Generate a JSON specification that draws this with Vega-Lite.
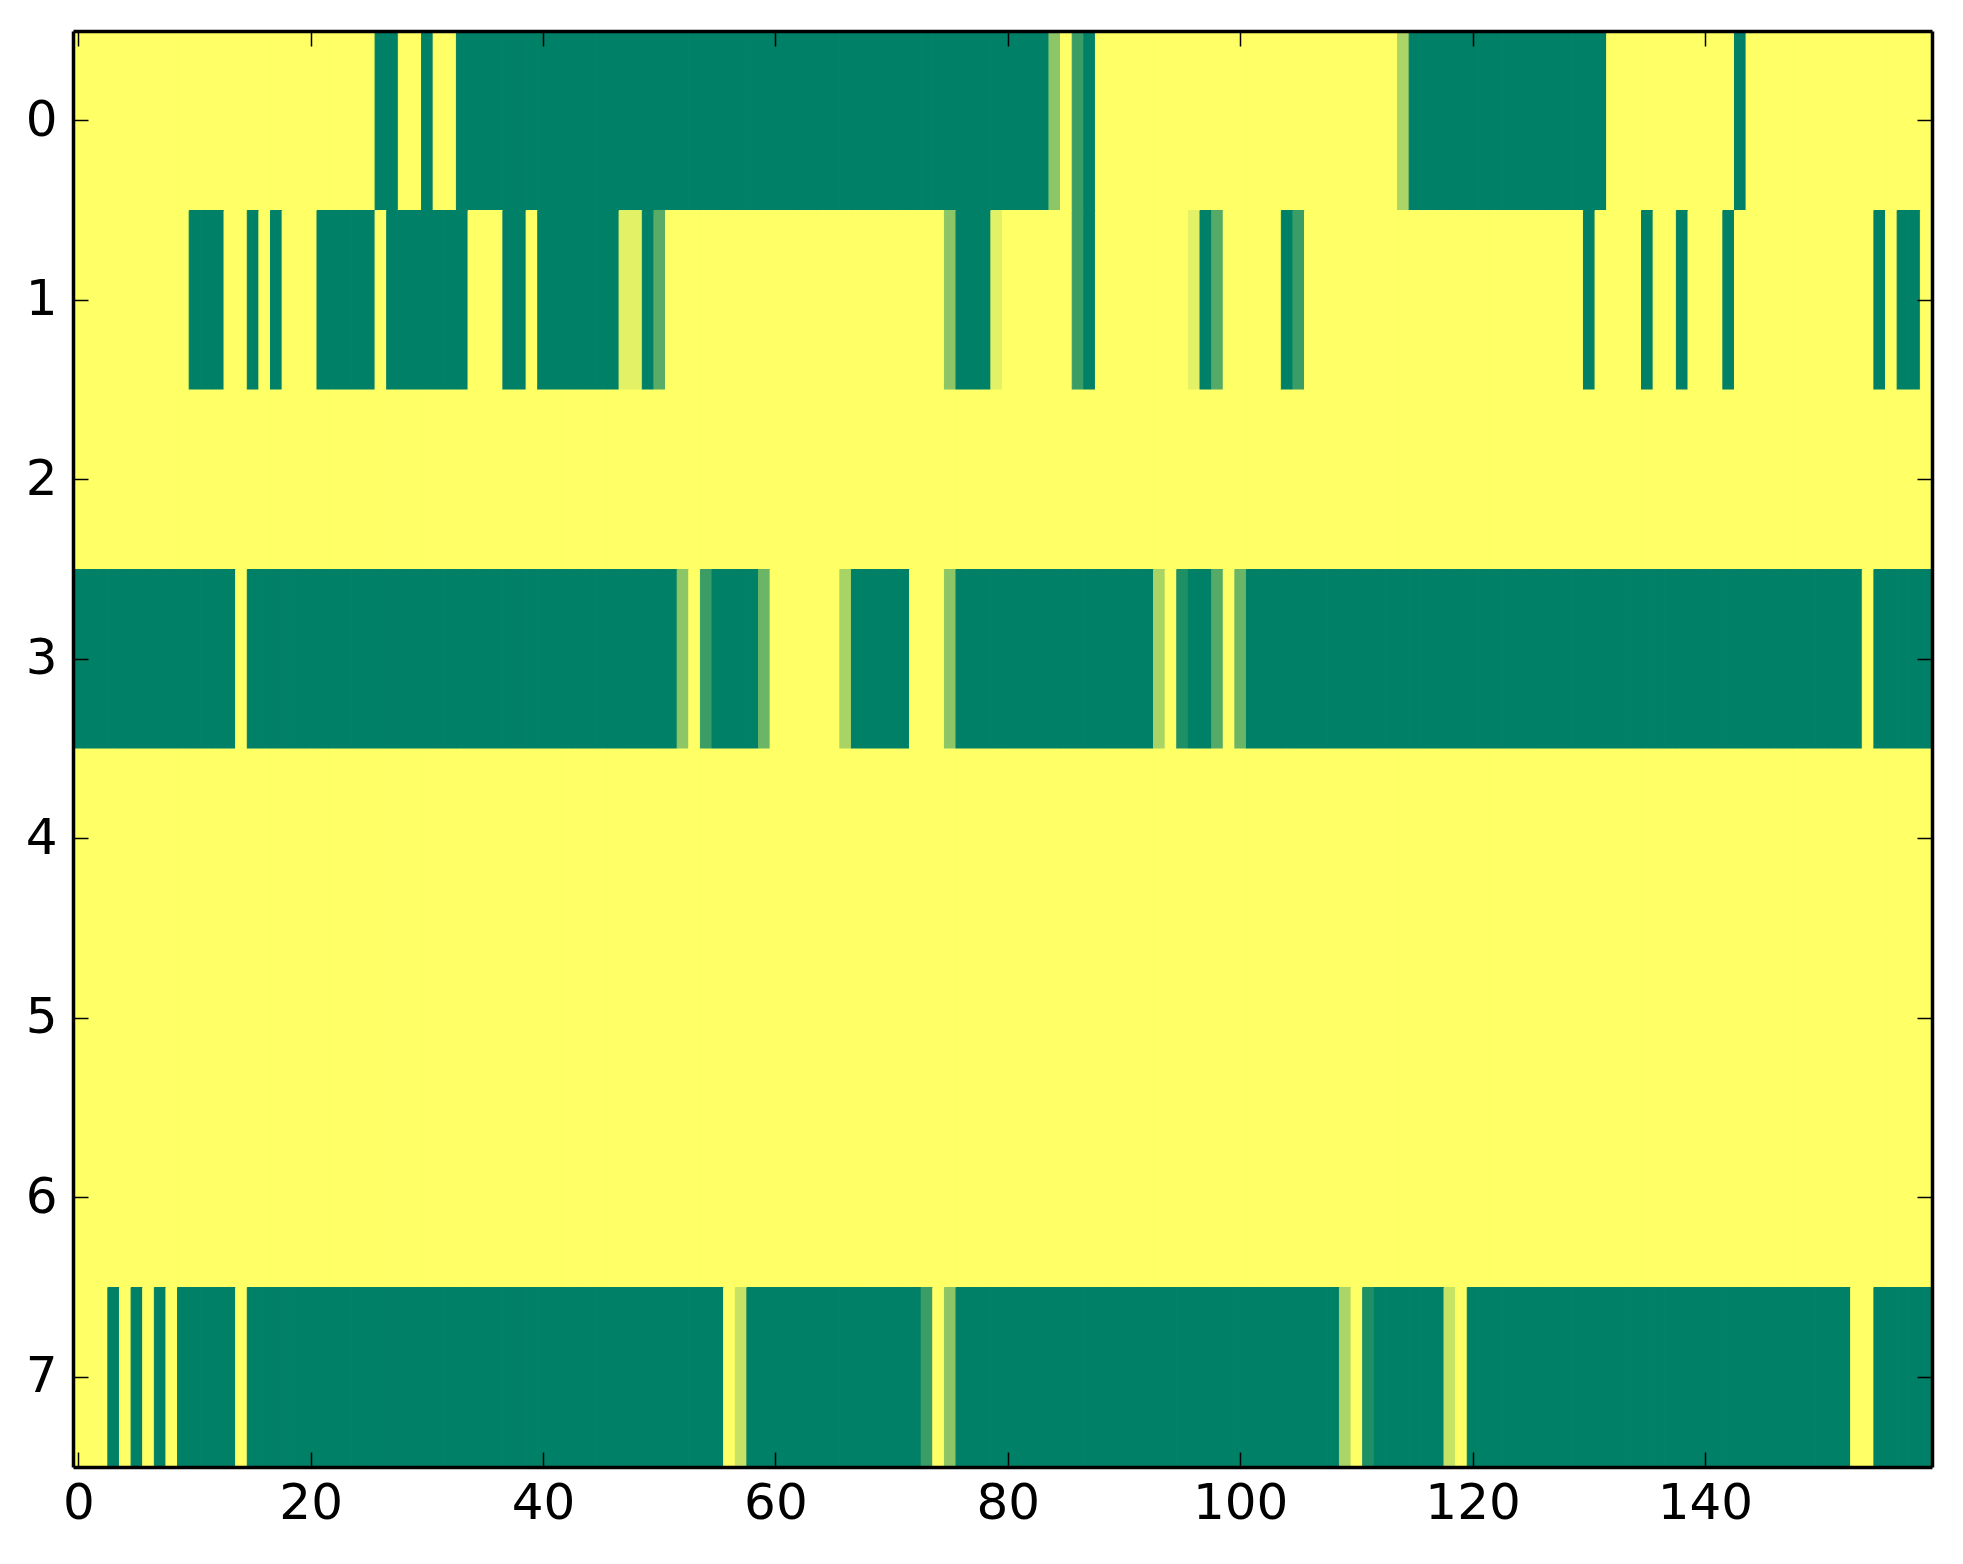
{
  "$schema": "https://vega.github.io/schema/vega-lite/v6.json",
  "autosize": {"type": "none"},
  "padding": {"left": 73, "top": 31, "right": 31, "bottom": 97},
  "width": 1859,
  "height": 1436,
  "background": "white",
  "config": {
    "view": {"stroke": null},
    "axis": {
      "labelFont": "DejaVu Sans",
      "labelFontSize": 50,
      "labelColor": "black",
      "tickColor": "black",
      "tickWidth": 1.5,
      "tickSize": -15,
      "domainColor": "black",
      "domainWidth": 3.5,
      "grid": false,
      "title": null
    }
  },
  "data": {
    "format": {"type": "csv", "parse": {"row": "number", "col": "number", "val": "number"}},
    "values": "row,col,val\n0,0,1\n0,1,1\n0,2,1\n0,3,1\n0,4,1\n0,5,1\n0,6,1\n0,7,1\n0,8,1\n0,9,1\n0,10,1\n0,11,1\n0,12,1\n0,13,1\n0,14,1\n0,15,1\n0,16,1\n0,17,1\n0,18,1\n0,19,1\n0,20,1\n0,21,1\n0,22,1\n0,23,1\n0,24,1\n0,25,1\n0,26,0\n0,27,0\n0,28,1\n0,29,1\n0,30,0\n0,31,1\n0,32,1\n0,33,0\n0,34,0\n0,35,0\n0,36,0\n0,37,0\n0,38,0\n0,39,0\n0,40,0\n0,41,0\n0,42,0\n0,43,0\n0,44,0\n0,45,0\n0,46,0\n0,47,0\n0,48,0\n0,49,0\n0,50,0\n0,51,0\n0,52,0\n0,53,0\n0,54,0\n0,55,0\n0,56,0\n0,57,0\n0,58,0\n0,59,0\n0,60,0\n0,61,0\n0,62,0\n0,63,0\n0,64,0\n0,65,0\n0,66,0\n0,67,0\n0,68,0\n0,69,0\n0,70,0\n0,71,0\n0,72,0\n0,73,0\n0,74,0\n0,75,0\n0,76,0\n0,77,0\n0,78,0\n0,79,0\n0,80,0\n0,81,0\n0,82,0\n0,83,0\n0,84,0.55\n0,85,1\n0,86,0.23\n0,87,0\n0,88,1\n0,89,1\n0,90,1\n0,91,1\n0,92,1\n0,93,1\n0,94,1\n0,95,1\n0,96,1\n0,97,1\n0,98,1\n0,99,1\n0,100,1\n0,101,1\n0,102,1\n0,103,1\n0,104,1\n0,105,1\n0,106,1\n0,107,1\n0,108,1\n0,109,1\n0,110,1\n0,111,1\n0,112,1\n0,113,1\n0,114,0.67\n0,115,0\n0,116,0\n0,117,0\n0,118,0\n0,119,0\n0,120,0\n0,121,0\n0,122,0\n0,123,0\n0,124,0\n0,125,0\n0,126,0\n0,127,0\n0,128,0\n0,129,0\n0,130,0\n0,131,0\n0,132,1\n0,133,1\n0,134,1\n0,135,1\n0,136,1\n0,137,1\n0,138,1\n0,139,1\n0,140,1\n0,141,1\n0,142,1\n0,143,0\n0,144,1\n0,145,1\n0,146,1\n0,147,1\n0,148,1\n0,149,1\n0,150,1\n0,151,1\n0,152,1\n0,153,1\n0,154,1\n0,155,1\n0,156,1\n0,157,1\n0,158,1\n0,159,1\n1,0,1\n1,1,1\n1,2,1\n1,3,1\n1,4,1\n1,5,1\n1,6,1\n1,7,1\n1,8,1\n1,9,1\n1,10,0\n1,11,0\n1,12,0\n1,13,1\n1,14,1\n1,15,0\n1,16,1\n1,17,0\n1,18,1\n1,19,1\n1,20,1\n1,21,0\n1,22,0\n1,23,0\n1,24,0\n1,25,0\n1,26,1\n1,27,0\n1,28,0\n1,29,0\n1,30,0\n1,31,0\n1,32,0\n1,33,0\n1,34,1\n1,35,1\n1,36,1\n1,37,0\n1,38,0\n1,39,1\n1,40,0\n1,41,0\n1,42,0\n1,43,0\n1,44,0\n1,45,0\n1,46,0\n1,47,0.89\n1,48,0.89\n1,49,0\n1,50,0.35\n1,51,1\n1,52,1\n1,53,1\n1,54,1\n1,55,1\n1,56,1\n1,57,1\n1,58,1\n1,59,1\n1,60,1\n1,61,1\n1,62,1\n1,63,1\n1,64,1\n1,65,1\n1,66,1\n1,67,1\n1,68,1\n1,69,1\n1,70,1\n1,71,1\n1,72,1\n1,73,1\n1,74,1\n1,75,0.55\n1,76,0\n1,77,0\n1,78,0\n1,79,0.89\n1,80,1\n1,81,1\n1,82,1\n1,83,1\n1,84,1\n1,85,1\n1,86,0.23\n1,87,0\n1,88,1\n1,89,1\n1,90,1\n1,91,1\n1,92,1\n1,93,1\n1,94,1\n1,95,1\n1,96,0.89\n1,97,0\n1,98,0.33\n1,99,1\n1,100,1\n1,101,1\n1,102,1\n1,103,1\n1,104,0\n1,105,0.23\n1,106,1\n1,107,1\n1,108,1\n1,109,1\n1,110,1\n1,111,1\n1,112,1\n1,113,1\n1,114,1\n1,115,1\n1,116,1\n1,117,1\n1,118,1\n1,119,1\n1,120,1\n1,121,1\n1,122,1\n1,123,1\n1,124,1\n1,125,1\n1,126,1\n1,127,1\n1,128,1\n1,129,1\n1,130,0\n1,131,1\n1,132,1\n1,133,1\n1,134,1\n1,135,0\n1,136,1\n1,137,1\n1,138,0\n1,139,1\n1,140,1\n1,141,1\n1,142,0\n1,143,1\n1,144,1\n1,145,1\n1,146,1\n1,147,1\n1,148,1\n1,149,1\n1,150,1\n1,151,1\n1,152,1\n1,153,1\n1,154,1\n1,155,0\n1,156,1\n1,157,0\n1,158,0\n1,159,1\n2,0,1\n2,1,1\n2,2,1\n2,3,1\n2,4,1\n2,5,1\n2,6,1\n2,7,1\n2,8,1\n2,9,1\n2,10,1\n2,11,1\n2,12,1\n2,13,1\n2,14,1\n2,15,1\n2,16,1\n2,17,1\n2,18,1\n2,19,1\n2,20,1\n2,21,1\n2,22,1\n2,23,1\n2,24,1\n2,25,1\n2,26,1\n2,27,1\n2,28,1\n2,29,1\n2,30,1\n2,31,1\n2,32,1\n2,33,1\n2,34,1\n2,35,1\n2,36,1\n2,37,1\n2,38,1\n2,39,1\n2,40,1\n2,41,1\n2,42,1\n2,43,1\n2,44,1\n2,45,1\n2,46,1\n2,47,1\n2,48,1\n2,49,1\n2,50,1\n2,51,1\n2,52,1\n2,53,1\n2,54,1\n2,55,1\n2,56,1\n2,57,1\n2,58,1\n2,59,1\n2,60,1\n2,61,1\n2,62,1\n2,63,1\n2,64,1\n2,65,1\n2,66,1\n2,67,1\n2,68,1\n2,69,1\n2,70,1\n2,71,1\n2,72,1\n2,73,1\n2,74,1\n2,75,1\n2,76,1\n2,77,1\n2,78,1\n2,79,1\n2,80,1\n2,81,1\n2,82,1\n2,83,1\n2,84,1\n2,85,1\n2,86,1\n2,87,1\n2,88,1\n2,89,1\n2,90,1\n2,91,1\n2,92,1\n2,93,1\n2,94,1\n2,95,1\n2,96,1\n2,97,1\n2,98,1\n2,99,1\n2,100,1\n2,101,1\n2,102,1\n2,103,1\n2,104,1\n2,105,1\n2,106,1\n2,107,1\n2,108,1\n2,109,1\n2,110,1\n2,111,1\n2,112,1\n2,113,1\n2,114,1\n2,115,1\n2,116,1\n2,117,1\n2,118,1\n2,119,1\n2,120,1\n2,121,1\n2,122,1\n2,123,1\n2,124,1\n2,125,1\n2,126,1\n2,127,1\n2,128,1\n2,129,1\n2,130,1\n2,131,1\n2,132,1\n2,133,1\n2,134,1\n2,135,1\n2,136,1\n2,137,1\n2,138,1\n2,139,1\n2,140,1\n2,141,1\n2,142,1\n2,143,1\n2,144,1\n2,145,1\n2,146,1\n2,147,1\n2,148,1\n2,149,1\n2,150,1\n2,151,1\n2,152,1\n2,153,1\n2,154,1\n2,155,1\n2,156,1\n2,157,1\n2,158,1\n2,159,1\n3,0,0\n3,1,0\n3,2,0\n3,3,0\n3,4,0\n3,5,0\n3,6,0\n3,7,0\n3,8,0\n3,9,0\n3,10,0\n3,11,0\n3,12,0\n3,13,0\n3,14,1\n3,15,0\n3,16,0\n3,17,0\n3,18,0\n3,19,0\n3,20,0\n3,21,0\n3,22,0\n3,23,0\n3,24,0\n3,25,0\n3,26,0\n3,27,0\n3,28,0\n3,29,0\n3,30,0\n3,31,0\n3,32,0\n3,33,0\n3,34,0\n3,35,0\n3,36,0\n3,37,0\n3,38,0\n3,39,0\n3,40,0\n3,41,0\n3,42,0\n3,43,0\n3,44,0\n3,45,0\n3,46,0\n3,47,0\n3,48,0\n3,49,0\n3,50,0\n3,51,0\n3,52,0.55\n3,53,1\n3,54,0.23\n3,55,0\n3,56,0\n3,57,0\n3,58,0\n3,59,0.42\n3,60,1\n3,61,1\n3,62,1\n3,63,1\n3,64,1\n3,65,1\n3,66,0.66\n3,67,0\n3,68,0\n3,69,0\n3,70,0\n3,71,0\n3,72,1\n3,73,1\n3,74,1\n3,75,0.55\n3,76,0\n3,77,0\n3,78,0\n3,79,0\n3,80,0\n3,81,0\n3,82,0\n3,83,0\n3,84,0\n3,85,0\n3,86,0\n3,87,0\n3,88,0\n3,89,0\n3,90,0\n3,91,0\n3,92,0\n3,93,0.66\n3,94,1\n3,95,0.12\n3,96,0\n3,97,0\n3,98,0.33\n3,99,1\n3,100,0.42\n3,101,0\n3,102,0\n3,103,0\n3,104,0\n3,105,0\n3,106,0\n3,107,0\n3,108,0\n3,109,0\n3,110,0\n3,111,0\n3,112,0\n3,113,0\n3,114,0\n3,115,0\n3,116,0\n3,117,0\n3,118,0\n3,119,0\n3,120,0\n3,121,0\n3,122,0\n3,123,0\n3,124,0\n3,125,0\n3,126,0\n3,127,0\n3,128,0\n3,129,0\n3,130,0\n3,131,0\n3,132,0\n3,133,0\n3,134,0\n3,135,0\n3,136,0\n3,137,0\n3,138,0\n3,139,0\n3,140,0\n3,141,0\n3,142,0\n3,143,0\n3,144,0\n3,145,0\n3,146,0\n3,147,0\n3,148,0\n3,149,0\n3,150,0\n3,151,0\n3,152,0\n3,153,0\n3,154,1\n3,155,0\n3,156,0\n3,157,0\n3,158,0\n3,159,0\n4,0,1\n4,1,1\n4,2,1\n4,3,1\n4,4,1\n4,5,1\n4,6,1\n4,7,1\n4,8,1\n4,9,1\n4,10,1\n4,11,1\n4,12,1\n4,13,1\n4,14,1\n4,15,1\n4,16,1\n4,17,1\n4,18,1\n4,19,1\n4,20,1\n4,21,1\n4,22,1\n4,23,1\n4,24,1\n4,25,1\n4,26,1\n4,27,1\n4,28,1\n4,29,1\n4,30,1\n4,31,1\n4,32,1\n4,33,1\n4,34,1\n4,35,1\n4,36,1\n4,37,1\n4,38,1\n4,39,1\n4,40,1\n4,41,1\n4,42,1\n4,43,1\n4,44,1\n4,45,1\n4,46,1\n4,47,1\n4,48,1\n4,49,1\n4,50,1\n4,51,1\n4,52,1\n4,53,1\n4,54,1\n4,55,1\n4,56,1\n4,57,1\n4,58,1\n4,59,1\n4,60,1\n4,61,1\n4,62,1\n4,63,1\n4,64,1\n4,65,1\n4,66,1\n4,67,1\n4,68,1\n4,69,1\n4,70,1\n4,71,1\n4,72,1\n4,73,1\n4,74,1\n4,75,1\n4,76,1\n4,77,1\n4,78,1\n4,79,1\n4,80,1\n4,81,1\n4,82,1\n4,83,1\n4,84,1\n4,85,1\n4,86,1\n4,87,1\n4,88,1\n4,89,1\n4,90,1\n4,91,1\n4,92,1\n4,93,1\n4,94,1\n4,95,1\n4,96,1\n4,97,1\n4,98,1\n4,99,1\n4,100,1\n4,101,1\n4,102,1\n4,103,1\n4,104,1\n4,105,1\n4,106,1\n4,107,1\n4,108,1\n4,109,1\n4,110,1\n4,111,1\n4,112,1\n4,113,1\n4,114,1\n4,115,1\n4,116,1\n4,117,1\n4,118,1\n4,119,1\n4,120,1\n4,121,1\n4,122,1\n4,123,1\n4,124,1\n4,125,1\n4,126,1\n4,127,1\n4,128,1\n4,129,1\n4,130,1\n4,131,1\n4,132,1\n4,133,1\n4,134,1\n4,135,1\n4,136,1\n4,137,1\n4,138,1\n4,139,1\n4,140,1\n4,141,1\n4,142,1\n4,143,1\n4,144,1\n4,145,1\n4,146,1\n4,147,1\n4,148,1\n4,149,1\n4,150,1\n4,151,1\n4,152,1\n4,153,1\n4,154,1\n4,155,1\n4,156,1\n4,157,1\n4,158,1\n4,159,1\n5,0,1\n5,1,1\n5,2,1\n5,3,1\n5,4,1\n5,5,1\n5,6,1\n5,7,1\n5,8,1\n5,9,1\n5,10,1\n5,11,1\n5,12,1\n5,13,1\n5,14,1\n5,15,1\n5,16,1\n5,17,1\n5,18,1\n5,19,1\n5,20,1\n5,21,1\n5,22,1\n5,23,1\n5,24,1\n5,25,1\n5,26,1\n5,27,1\n5,28,1\n5,29,1\n5,30,1\n5,31,1\n5,32,1\n5,33,1\n5,34,1\n5,35,1\n5,36,1\n5,37,1\n5,38,1\n5,39,1\n5,40,1\n5,41,1\n5,42,1\n5,43,1\n5,44,1\n5,45,1\n5,46,1\n5,47,1\n5,48,1\n5,49,1\n5,50,1\n5,51,1\n5,52,1\n5,53,1\n5,54,1\n5,55,1\n5,56,1\n5,57,1\n5,58,1\n5,59,1\n5,60,1\n5,61,1\n5,62,1\n5,63,1\n5,64,1\n5,65,1\n5,66,1\n5,67,1\n5,68,1\n5,69,1\n5,70,1\n5,71,1\n5,72,1\n5,73,1\n5,74,1\n5,75,1\n5,76,1\n5,77,1\n5,78,1\n5,79,1\n5,80,1\n5,81,1\n5,82,1\n5,83,1\n5,84,1\n5,85,1\n5,86,1\n5,87,1\n5,88,1\n5,89,1\n5,90,1\n5,91,1\n5,92,1\n5,93,1\n5,94,1\n5,95,1\n5,96,1\n5,97,1\n5,98,1\n5,99,1\n5,100,1\n5,101,1\n5,102,1\n5,103,1\n5,104,1\n5,105,1\n5,106,1\n5,107,1\n5,108,1\n5,109,1\n5,110,1\n5,111,1\n5,112,1\n5,113,1\n5,114,1\n5,115,1\n5,116,1\n5,117,1\n5,118,1\n5,119,1\n5,120,1\n5,121,1\n5,122,1\n5,123,1\n5,124,1\n5,125,1\n5,126,1\n5,127,1\n5,128,1\n5,129,1\n5,130,1\n5,131,1\n5,132,1\n5,133,1\n5,134,1\n5,135,1\n5,136,1\n5,137,1\n5,138,1\n5,139,1\n5,140,1\n5,141,1\n5,142,1\n5,143,1\n5,144,1\n5,145,1\n5,146,1\n5,147,1\n5,148,1\n5,149,1\n5,150,1\n5,151,1\n5,152,1\n5,153,1\n5,154,1\n5,155,1\n5,156,1\n5,157,1\n5,158,1\n5,159,1\n6,0,1\n6,1,1\n6,2,1\n6,3,1\n6,4,1\n6,5,1\n6,6,1\n6,7,1\n6,8,1\n6,9,1\n6,10,1\n6,11,1\n6,12,1\n6,13,1\n6,14,1\n6,15,1\n6,16,1\n6,17,1\n6,18,1\n6,19,1\n6,20,1\n6,21,1\n6,22,1\n6,23,1\n6,24,1\n6,25,1\n6,26,1\n6,27,1\n6,28,1\n6,29,1\n6,30,1\n6,31,1\n6,32,1\n6,33,1\n6,34,1\n6,35,1\n6,36,1\n6,37,1\n6,38,1\n6,39,1\n6,40,1\n6,41,1\n6,42,1\n6,43,1\n6,44,1\n6,45,1\n6,46,1\n6,47,1\n6,48,1\n6,49,1\n6,50,1\n6,51,1\n6,52,1\n6,53,1\n6,54,1\n6,55,1\n6,56,1\n6,57,1\n6,58,1\n6,59,1\n6,60,1\n6,61,1\n6,62,1\n6,63,1\n6,64,1\n6,65,1\n6,66,1\n6,67,1\n6,68,1\n6,69,1\n6,70,1\n6,71,1\n6,72,1\n6,73,1\n6,74,1\n6,75,1\n6,76,1\n6,77,1\n6,78,1\n6,79,1\n6,80,1\n6,81,1\n6,82,1\n6,83,1\n6,84,1\n6,85,1\n6,86,1\n6,87,1\n6,88,1\n6,89,1\n6,90,1\n6,91,1\n6,92,1\n6,93,1\n6,94,1\n6,95,1\n6,96,1\n6,97,1\n6,98,1\n6,99,1\n6,100,1\n6,101,1\n6,102,1\n6,103,1\n6,104,1\n6,105,1\n6,106,1\n6,107,1\n6,108,1\n6,109,1\n6,110,1\n6,111,1\n6,112,1\n6,113,1\n6,114,1\n6,115,1\n6,116,1\n6,117,1\n6,118,1\n6,119,1\n6,120,1\n6,121,1\n6,122,1\n6,123,1\n6,124,1\n6,125,1\n6,126,1\n6,127,1\n6,128,1\n6,129,1\n6,130,1\n6,131,1\n6,132,1\n6,133,1\n6,134,1\n6,135,1\n6,136,1\n6,137,1\n6,138,1\n6,139,1\n6,140,1\n6,141,1\n6,142,1\n6,143,1\n6,144,1\n6,145,1\n6,146,1\n6,147,1\n6,148,1\n6,149,1\n6,150,1\n6,151,1\n6,152,1\n6,153,1\n6,154,1\n6,155,1\n6,156,1\n6,157,1\n6,158,1\n6,159,1\n7,0,1\n7,1,1\n7,2,1\n7,3,0\n7,4,1\n7,5,0\n7,6,1\n7,7,0\n7,8,1\n7,9,0\n7,10,0\n7,11,0\n7,12,0\n7,13,0\n7,14,1\n7,15,0\n7,16,0\n7,17,0\n7,18,0\n7,19,0\n7,20,0\n7,21,0\n7,22,0\n7,23,0\n7,24,0\n7,25,0\n7,26,0\n7,27,0\n7,28,0\n7,29,0\n7,30,0\n7,31,0\n7,32,0\n7,33,0\n7,34,0\n7,35,0\n7,36,0\n7,37,0\n7,38,0\n7,39,0\n7,40,0\n7,41,0\n7,42,0\n7,43,0\n7,44,0\n7,45,0\n7,46,0\n7,47,0\n7,48,0\n7,49,0\n7,50,0\n7,51,0\n7,52,0\n7,53,0\n7,54,0\n7,55,0\n7,56,1\n7,57,0.78\n7,58,0\n7,59,0\n7,60,0\n7,61,0\n7,62,0\n7,63,0\n7,64,0\n7,65,0\n7,66,0\n7,67,0\n7,68,0\n7,69,0\n7,70,0\n7,71,0\n7,72,0\n7,73,0.23\n7,74,1\n7,75,0.55\n7,76,0\n7,77,0\n7,78,0\n7,79,0\n7,80,0\n7,81,0\n7,82,0\n7,83,0\n7,84,0\n7,85,0\n7,86,0\n7,87,0\n7,88,0\n7,89,0\n7,90,0\n7,91,0\n7,92,0\n7,93,0\n7,94,0\n7,95,0\n7,96,0\n7,97,0\n7,98,0\n7,99,0\n7,100,0\n7,101,0\n7,102,0\n7,103,0\n7,104,0\n7,105,0\n7,106,0\n7,107,0\n7,108,0\n7,109,0.67\n7,110,1\n7,111,0.12\n7,112,0\n7,113,0\n7,114,0\n7,115,0\n7,116,0\n7,117,0\n7,118,0.78\n7,119,1\n7,120,0\n7,121,0\n7,122,0\n7,123,0\n7,124,0\n7,125,0\n7,126,0\n7,127,0\n7,128,0\n7,129,0\n7,130,0\n7,131,0\n7,132,0\n7,133,0\n7,134,0\n7,135,0\n7,136,0\n7,137,0\n7,138,0\n7,139,0\n7,140,0\n7,141,0\n7,142,0\n7,143,0\n7,144,0\n7,145,0\n7,146,0\n7,147,0\n7,148,0\n7,149,0\n7,150,0\n7,151,0\n7,152,0\n7,153,1\n7,154,1\n7,155,0\n7,156,0\n7,157,0\n7,158,0\n7,159,0"
  },
  "layer": [
    {
      "mark": {"type": "rect", "strokeWidth": 1},
      "encoding": {
        "x": {
          "field": "col",
          "type": "ordinal",
          "scale": {"paddingInner": 0, "paddingOuter": 0},
          "axis": {"orient": "bottom", "zindex": 2, "values": [0, 20, 40, 60, 80, 100, 120, 140], "labelAngle": 0, "labelPadding": 26}
        },
        "y": {
          "field": "row",
          "type": "ordinal",
          "scale": {"paddingInner": 0, "paddingOuter": 0},
          "axis": {"orient": "left", "zindex": 2, "values": [0, 1, 2, 3, 4, 5, 6, 7], "labelPadding": 31}
        },
        "color": {
          "field": "val",
          "type": "quantitative",
          "scale": {"domain": [0, 1], "range": ["#008066", "#ffff66"], "interpolate": "rgb"},
          "legend": null
        },
        "stroke": {
          "field": "val",
          "type": "quantitative",
          "scale": {"domain": [0, 1], "range": ["#008066", "#ffff66"], "interpolate": "rgb"},
          "legend": null
        }
      }
    },
    {
      "mark": {"type": "rect", "opacity": 0},
      "encoding": {
        "x": {
          "field": "col",
          "type": "ordinal",
          "axis": {"orient": "top", "zindex": 2, "values": [0, 20, 40, 60, 80, 100, 120, 140], "labels": false}
        },
        "y": {
          "field": "row",
          "type": "ordinal",
          "axis": {"orient": "right", "zindex": 2, "values": [0, 1, 2, 3, 4, 5, 6, 7], "labels": false}
        }
      }
    }
  ],
  "resolve": {"axis": {"x": "independent", "y": "independent"}}
}
